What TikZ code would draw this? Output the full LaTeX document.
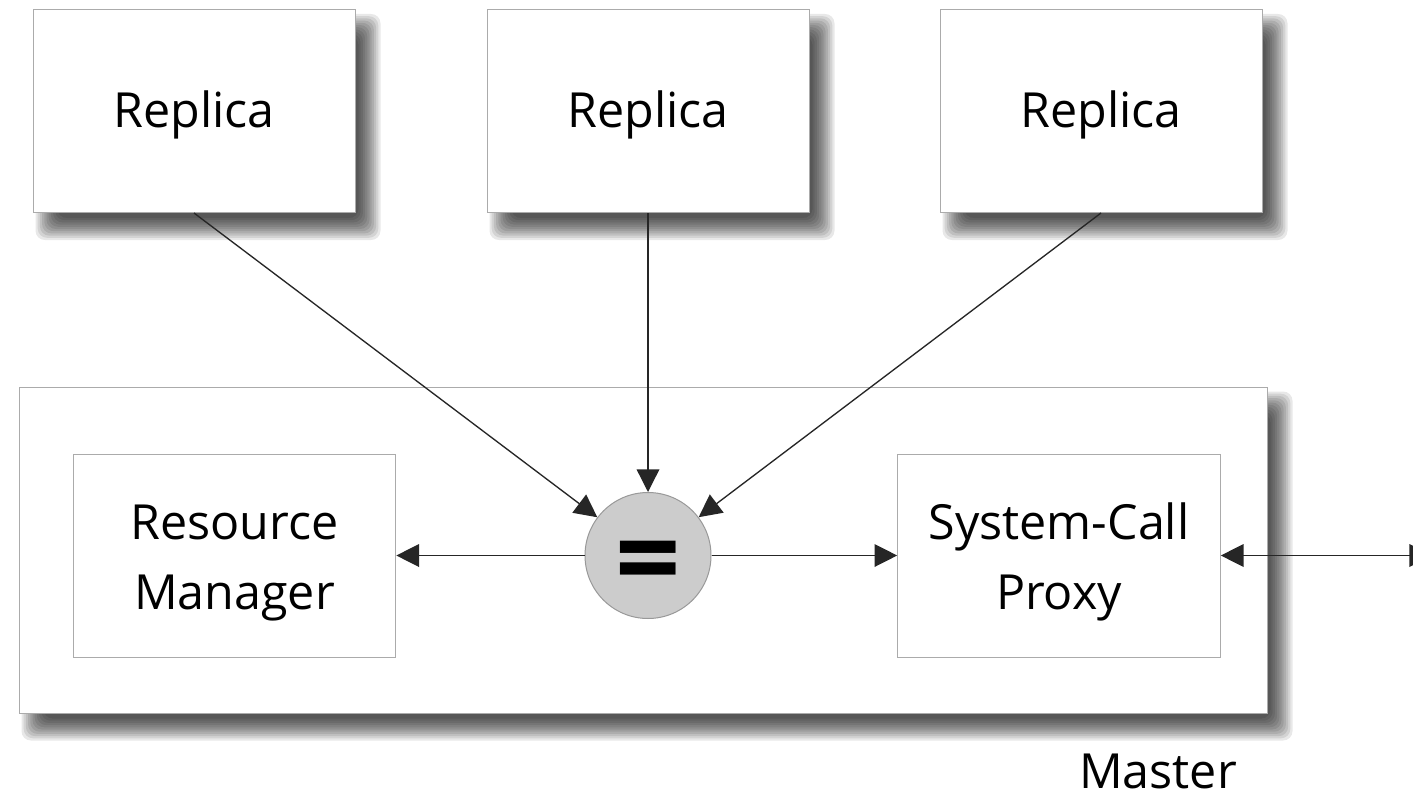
\documentclass[tikz,border=0pt]{standalone}
\usepackage{fontspec}
\setmainfont{Open Sans}
\usetikzlibrary{arrows.meta,calc,backgrounds}

\tikzset{
  x=0.75pt, y=-0.75pt,
  lbl/.style={font=\fontsize{36.3}{52.5}\selectfont, text=black, align=center},
  box/.style={draw=black!33, line width=0.75pt, fill=white, inner sep=0pt},
  replica/.style={box, lbl, text height=25.5pt, text depth=0pt,
      minimum width=241.5pt, minimum height=152.25pt},
  inner/.style={box, minimum width=242pt, minimum height=152.25pt},
  cmp/.style={circle, draw=black!40, line width=0.75pt, fill=black!20,
      minimum size=94.5pt, inner sep=0pt},
  conn/.style={draw=black!85, line width=1pt,
      -{Triangle[length=17pt, width=17pt]}},
  biconn/.style={conn, {Triangle[length=17pt, width=17pt]}-{Triangle[length=17pt, width=17pt]}},
  shadowlayer/.style={black, opacity=0.09, rounded corners=7pt},
}

% soft drop shadow: stacked translucent rectangles, offset down-right
\newcommand\softshadow[1]{%
  \foreach \e in {-11,-8.8,...,11} {%
    \fill[shadowlayer] ($(#1.north west)+({14-\e},{16-\e})$)
      rectangle ($(#1.south east)+({14+\e},{16+\e})$);
  }%
}

\begin{document}
\begin{tikzpicture}
  \useasboundingbox (0,0) rectangle (1413,795);
  \clip (0,0) rectangle (1413,795);

  % master enclosure
  \node[box, minimum width=936pt, minimum height=244.5pt] (master) at (643,550) {};
  \node[lbl, inner sep=0pt, anchor=base] (mlabel) at (1158,788) {Master};

  % replicas
  \node[replica] (r1) at (194,111) {Replica};
  \node[replica] (r2) at (648,111) {Replica};
  \node[replica] (r3) at (1101,111) {Replica};

  % components inside the master
  \node[inner] (rm) at (234.5,555.5) {};
  \node[lbl, inner sep=0pt, anchor=base] (rmtext) at (234.5,609) {Resource\\Manager};
  \node[inner] (scp) at (1059,555.5) {};
  \node[lbl, inner sep=0pt, anchor=base] (scptext) at (1059,609) {System-Call\\Proxy};
  \node[cmp] (eq) at (648,555.5) {};
  \node[font=\fontsize{86}{86}\bfseries\selectfont, inner sep=0pt] (eqsign) at (648,570) {=};

  \coordinate (out) at (1432,555.5);

  % connectors
  \draw[conn] (r1.south) -- (eq);
  \draw[conn] (r2.south) -- (eq);
  \draw[conn] (r3.south) -- (eq);
  \draw[conn] (eq) -- (rm.east);
  \draw[conn] (eq) -- (scp.west);
  \draw[biconn] (scp.east) -- (out);

  \begin{pgfonlayer}{background}
    \fill[white] (0,0) rectangle (1413,795);
    \softshadow{r1}
    \softshadow{r2}
    \softshadow{r3}
    \softshadow{master}
  \end{pgfonlayer}
\end{tikzpicture}
\end{document}
